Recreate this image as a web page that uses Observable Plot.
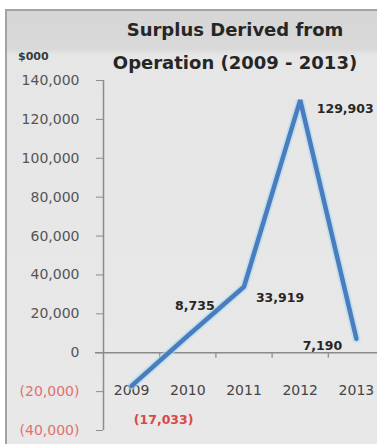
<!DOCTYPE html>
<html>
<head>
<meta charset="utf-8">
<script src="https://cdn.jsdelivr.net/npm/d3@7"></script>
<script src="https://cdn.jsdelivr.net/npm/@observablehq/plot@0.6"></script>
<style>
  html, body { margin: 0; padding: 0; overflow: hidden; background: #ffffff; }
  #wrap { position: relative; width: 377px; height: 444px; overflow: hidden; }
  #box { position: absolute; left: 5px; top: 9px; width: 380px; height: 440px;
         border-top: 2px solid #a3a3a3; border-left: 2px solid #a3a3a3;
         background: linear-gradient(to bottom, #d6d6d6 0px, #d9d9d9 38px, #e6e6e6 44px, #e8e8e8 100%); }
  #title { position: absolute; left: 93px; top: 13px; width: 284px; text-align: center;
           font-family: "DejaVu Sans", sans-serif; font-weight: bold; font-size: 18px;
           line-height: 33px; color: #262626; }
  #unit { position: absolute; left: 18px; top: 50px; font-family: "DejaVu Sans", sans-serif;
          font-weight: bold; font-size: 11px; color: #3a3a3a; }
  #chart { position: absolute; left: 0; top: 0; }
</style>
</head>
<body>
<div id="wrap">
  <div id="box"></div>
  <div id="chart"></div>
  <div id="title">Surplus Derived from<br>Operation (2009 - 2013)</div>
  <div id="unit">$000</div>
</div>
<script>
const years = [2009, 2010, 2011, 2012, 2013];
const surplus = [-17033, 8735, 33919, 129903, 7190];
const yTicksPos = [0, 20000, 40000, 60000, 80000, 100000, 120000, 140000];
const yTicksNeg = [-40000, -20000];

const data = years.map((year, i) => ({year, value: surplus[i]}));
const fmt = d3.format(",");
const acct = v => v < 0 ? `(${fmt(-v)})` : fmt(v);
const xMin = years[0] - 0.5, xMax = years[years.length - 1] + 0.5;
const boundaries = years.slice(1).map(y => y - 0.5);

const labelMark = (year, opts) => Plot.text(data.filter(d => d.year === year), {
  x: "year", y: "value", text: d => acct(d.value),
  fontFamily: "DejaVu Sans", fontWeight: "bold", fontSize: 12.5, fill: "#262626", ...opts
});

const chart = Plot.plot({
  width: 377,
  height: 444,
  marginTop: 80,
  marginBottom: 14,
  marginLeft: 103,
  marginRight: 0,
  style: {background: "transparent", fontFamily: "DejaVu Sans", overflow: "hidden"},
  x: {type: "linear", domain: [xMin, xMax], range: [103, 384], axis: null},
  y: {domain: [-40000, 140000], range: [430, 80], axis: null},
  marks: [
    Plot.ruleY([0], {stroke: "#8a8a8a", strokeWidth: 1.5, insetLeft: -8}),
    Plot.ruleX(boundaries, {y1: 0, y2: -2800, stroke: "#8a8a8a", strokeWidth: 1.2}),
    Plot.ruleX([xMin], {stroke: "#8c8c8c", strokeWidth: 1.5}),
    Plot.axisY(yTicksPos, {anchor: "left", tickSize: 7, tickPadding: 17, tickFormat: acct,
      fontSize: 14, fill: "#555", stroke: "#8c8c8c", label: null}),
    Plot.axisY(yTicksNeg, {anchor: "left", tickSize: 7, tickPadding: 17, tickFormat: acct,
      fontSize: 14, fill: "#e07070", stroke: "#8c8c8c", label: null}),
    Plot.text(years, {x: d => d, y: 0, dy: 38, text: d => String(d), fontSize: 14, fill: "#444"}),
    Plot.line(data, {x: "year", y: "value", stroke: "#a9dcec", strokeWidth: 8, strokeOpacity: 0.6, strokeLinejoin: "miter"}),
    Plot.line(data, {x: "year", y: "value", stroke: "#4a7cc0", strokeWidth: 4.5, strokeLinejoin: "miter"}),
    labelMark(2009, {dx: 32, dy: 34, fill: "#d9474a"}),
    labelMark(2010, {dx: 7, dy: -30}),
    labelMark(2011, {dx: 36, dy: 11}),
    labelMark(2012, {dx: 45, dy: 9}),
    labelMark(2013, {dx: -34, dy: 7})
  ]
});
document.getElementById("chart").appendChild(chart);
</script>
</body>
</html>
